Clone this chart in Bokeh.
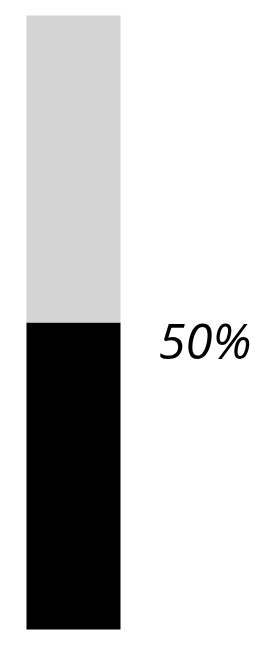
from bokeh.plotting import figure
from bokeh.embed import file_html
from bokeh.resources import INLINE
from bokeh.models import Range1d
from bokeh.core.properties import value

# data
categories = ["progress"]
percent_values = [50]
label_texts = ["50%"]

frac = [v / 100 for v in percent_values]
rest_bottom = frac
rest_top = [1.0 for _ in frac]
xs = [0]

p = figure(width=262, height=655, output_backend="svg", toolbar_location=None,
           x_range=Range1d(-0.7766, 2.0106), y_range=Range1d(-0.0423, 1.0244),
           min_border=0)
p.axis.visible = False
p.grid.visible = False
p.outline_line_color = None
p.background_fill_color = "white"
p.border_fill_color = "white"

p.vbar(x=xs, width=1, bottom=0, top=frac, fill_color="black", line_color=None)
p.vbar(x=xs, width=1, bottom=rest_bottom, top=rest_top, fill_color="#d4d4d4", line_color=None)

p.text(x=[0.5], y=frac, text=label_texts, x_offset=38, y_offset=17,
       text_font=value("Open Sans"), text_font_style="italic",
       text_font_size="49px", text_baseline="alphabetic", text_align="left",
       text_color="black")

open("out.html", "w").write(file_html(p, INLINE))
